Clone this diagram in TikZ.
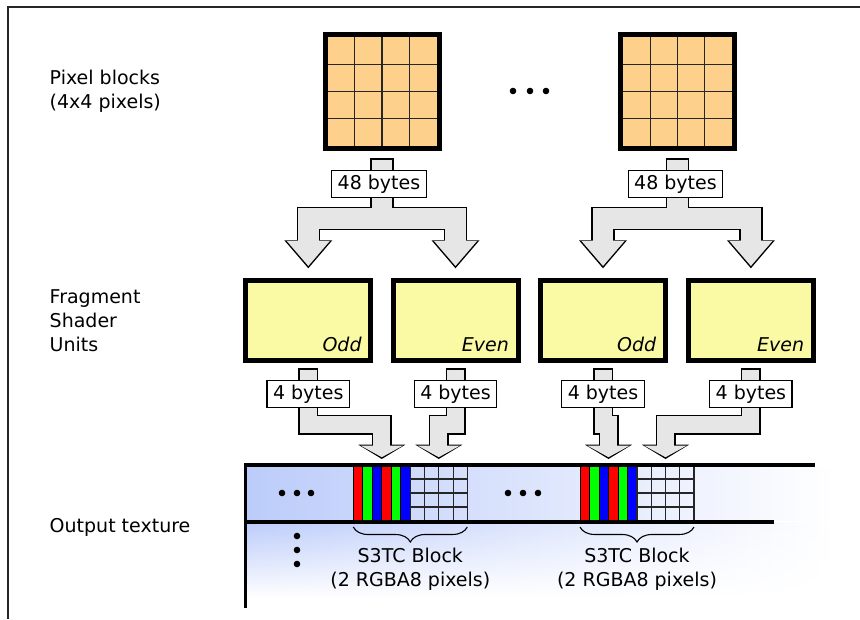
\documentclass[tikz,border=0pt]{standalone}
\usepackage{fontspec}
\setmainfont{DejaVu Sans}
\usepackage{xcolor}
\definecolor{pixorange}{RGB}{253,209,140}
\definecolor{fsyellow}{RGB}{250,250,165}
\definecolor{arrowgray}{RGB}{230,230,230}
\definecolor{texblue}{RGB}{188,204,250}
\usepackage{tikz}
\usetikzlibrary{arrows.meta, decorations.pathreplacing, fadings}
\tikzfading[name=fadedown, top color=transparent!0, bottom color=transparent!100]

\tikzset{
  pixblock/.style={draw, line width=5pt, fill=pixorange, minimum width=114pt, minimum height=113.4pt, inner sep=0pt},
  fsunit/.style={draw, line width=5pt, fill=fsyellow, minimum width=125pt, minimum height=79.4pt, inner sep=0pt},
  bytelabel/.style={draw, line width=1.3pt, fill=white, inner xsep=6pt, inner ysep=0pt, minimum height=27.5pt},
  bigout/.style={draw=black, line width=23.5pt, -{Triangle[length=28pt, width=48pt, line width=0pt]}},
  bigin/.style={draw=arrowgray, line width=20.5pt, shorten <=1.5pt, shorten >=2.3pt, -{Triangle[length=25pt, width=43pt, line width=0pt]}},
  smallout/.style={draw=black, line width=20pt, -{Triangle[length=14.3pt, width=47pt, line width=0pt]}},
  smallin/.style={draw=arrowgray, line width=17pt, shorten <=1.5pt, shorten >=1.8pt, -{Triangle[length=11.5pt, width=42pt, line width=0pt]}},
  texline/.style={line width=3.8pt},
  cellline/.style={line width=1.1pt, black!85},
}

% fat arrows, drawn once for the outline and once for the fill
\newcommand{\toparrows}[1]{%
  \foreach \b/\j/\u in {pb1/jn1/fs1, pb1/jn1/fs2, pb2/jn2/fs3, pb2/jn2/fs4}
    \draw[#1] ([yshift=-7.5pt]\b.south) -- (\j) -| ([yshift=10pt]\u.north);
}
\newcommand{\lowarrows}[1]{%
  \foreach \u/\t in {fs1/rgb1, fs2/idx1, fs3/rgb2, fs4/idx2}
    \draw[#1] ([yshift=-5.5pt]\u.south) -- ++(0,56.3) -| ([yshift=6pt]\t);
}

\begin{document}
\begin{tikzpicture}[x=1pt, y=-1pt, every node/.style={font=\fontsize{19pt}{24pt}\selectfont}]
  \useasboundingbox (0,0) rectangle (860,619);

  % Frame
  \draw[line width=1.3pt, black!85] (8,619) -- (8,7) -- (860,7);

  % Row labels
  \node[anchor=west, align=left, inner sep=0pt] (lblpix) at (49.5,91) {Pixel blocks\\(4x4 pixels)};
  \node[anchor=west, align=left, inner sep=0pt] (lblfs) at (49.5,321) {Fragment\\Shader\\Units};
  \node[anchor=west, align=left, inner sep=0pt] (lbltex) at (49.5,527) {Output texture};

  % Pixel blocks
  \node[pixblock] (pb1) at (382,91.5) {};
  \node[pixblock] (pb2) at (677.5,91.5) {};
  \foreach \b in {pb1,pb2} {
    \begin{scope}[shift={(\b.center)}]
      \foreach \d in {-27.25,0,27.25} {
        \draw[cellline] (\d,-54.2) -- (\d,54.2);
        \draw[cellline] (-54.5,\d) -- (54.5,\d);
      }
    \end{scope}
  }
  \foreach \x in {513,530,546} \fill (\x,91) circle (3.3pt);

  % Fragment shader units
  \node[fsunit] (fs1) at (308.3,320.5) {};
  \node[fsunit] (fs2) at (455.5,320.5) {};
  \node[fsunit] (fs3) at (603,320.5) {};
  \node[fsunit] (fs4) at (750.9,320.5) {};
  \foreach \u/\t in {fs1/Odd, fs2/Even, fs3/Odd, fs4/Even}
    \node[anchor=base east, inner sep=0pt] (\u txt) at ([xshift=-11.5pt, yshift=11pt]\u.south east) {\itshape \t};

  % Output texture
  \shade[left color=texblue, right color=white] (247,467) rectangle (835,520);
  \shade[left color=texblue, right color=white, path fading=fadedown] (247,523) rectangle (835,598);
  \foreach \bx/\n in {353.3/1, 580/2} {
    \foreach \c [count=\i from 0] in {red,green,blue,red,green,blue}
      \draw[fill=\c, line width=0.9pt] ({\bx+9.5*\i},466) rectangle ({\bx+9.5*\i+9.5},521);
    \foreach \i in {0,...,4}
      \draw[cellline] ({\bx+57+14.25*\i},465) -- ({\bx+57+14.25*\i},521);
    \foreach \j in {1,2,3}
      \draw[cellline] ({\bx+57},{465+14*\j}) -- ({\bx+114},{465+14*\j});
    \coordinate (rgb\n) at ({\bx+28.5},465);
    \coordinate (idx\n) at ({\bx+85.5},465);
    \draw[decorate, decoration={brace, mirror, amplitude=15pt}, line width=1.1pt] ({\bx},527) -- ({\bx+114},527);
    \node[align=center] (s3tc\n) at ({\bx+57},569.5) {S3TC Block\\(2 RGBA8 pixels)};
  }
  \draw[texline] (244,465) -- (815,465);
  \draw[texline] (244,521.7) -- (774,521.7);
  \draw[line width=3.4pt] (245.6,463.1) -- (245.6,607.7);
  \foreach \x in {282,297,311,508,523,538} \fill (\x,493) circle (3.3pt);
  \foreach \y in {536,550,564} \fill (297,\y) circle (3.3pt);

  % Fat arrows
  \coordinate (jn1) at (382,218.5);
  \coordinate (jn2) at (677.5,218.5);
  \toparrows{bigout}
  \toparrows{bigin}
  \lowarrows{smallout}
  \lowarrows{smallin}

  % Byte labels
  \node[bytelabel] (b48a) at (379,184) {48 bytes};
  \node[bytelabel] (b48b) at (675.5,184) {48 bytes};
  \foreach \u in {fs1,fs2,fs3,fs4}
    \node[bytelabel] (\u b) at ([yshift=-31.3pt]\u.south) {4 bytes};
\end{tikzpicture}
\end{document}
